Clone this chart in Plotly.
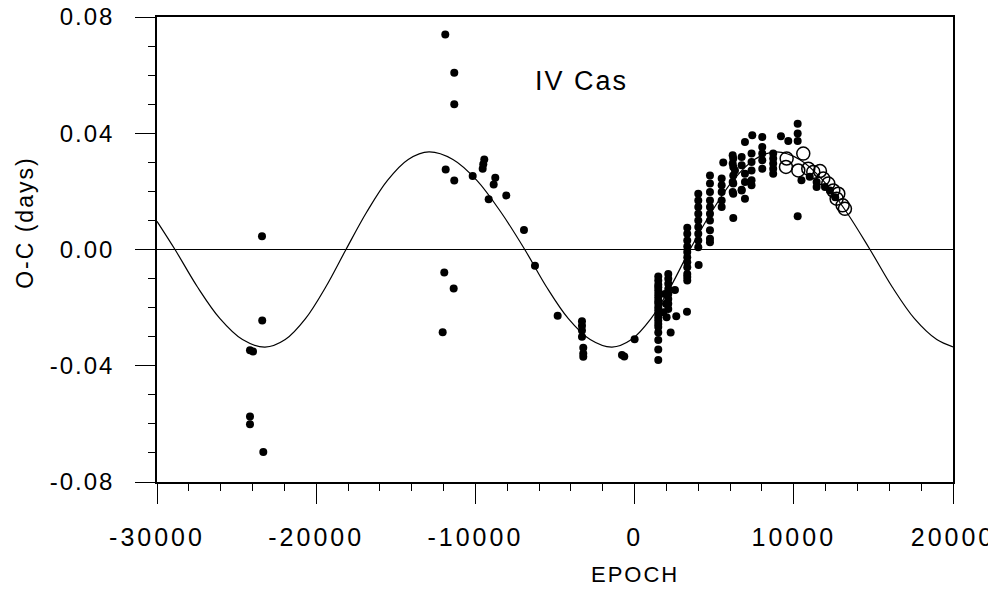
import plotly.graph_objects as go

# observed O-C, filled dots (epoch, days)
dot_epoch = [
    -24159, -23970, -23390, -23405, -24159, -24159, -23323,
    -11892, -11327, -11327, -11867, -11327, -10171, -9442, -9505, -9543, -8751, -8852, -9166, -8060,
    -6949, -6258, -11955, -11365, -12056,
    -4833, -3306, -3306, -3306, -3306, -3224, -3224, -3224, -794, -648, 0,
    1487, 1487, 1487, 1487, 1487, 1487, 1487, 1487, 1487, 1487,
    1487, 1487, 1487, 1487, 1487, 1487, 1487, 1487, 1487, 1487,
    2115, 2115, 2115, 2115, 2115, 2115, 2115, 2115,
    1908, 1970, 1803, 2010, 2265, 2535, 2618, 3290,
    3308, 3308, 3308, 3308, 3308, 3308, 3308, 3308, 3308, 3308, 3308,
    4024,
    4000, 4000, 4000, 4000, 4000, 4000, 4000, 4000, 4000,
    4734, 4734, 4734, 4734, 4734, 4734, 4734, 4734, 4734, 4734,
    5469, 5469, 5469, 5469, 5469,
    5570, 6198,
    6160, 6160, 6305, 6160, 6160, 6725, 6725, 6932, 6932, 6932, 6932, 6725,
    7391, 8019, 8019, 8019, 8019, 8019, 6725,
    7346, 7346, 7346, 7346, 7346,
    6198, 6198, 6198, 6198, 6198,
    8706, 8706, 8706, 8706, 8706,
    9193, 9653, 10243, 10243, 10243, 10243,
    10481, 11433, 11433, 11957, 12271, 11000, 12600,
]
dot_oc = [
    -0.0347, -0.0351, -0.0244, 0.0046, -0.0575, -0.0601, -0.0697,
    0.0740, 0.0608, 0.0500, 0.0275, 0.0237, 0.0253, 0.0310, 0.0293, 0.0278, 0.0247, 0.0224, 0.0173, 0.0186,
    0.0067, -0.0056, -0.0079, -0.0134, -0.0285,
    -0.0228, -0.0247, -0.0262, -0.0279, -0.0300, -0.0338, -0.0358, -0.0369, -0.0363, -0.0368, -0.0309,
    -0.0093, -0.0107, -0.0121, -0.0130, -0.0141, -0.0153, -0.0164, -0.0176, -0.0185, -0.0199,
    -0.0210, -0.0222, -0.0233, -0.0244, -0.0256, -0.0267, -0.0286, -0.0311, -0.0344, -0.0380,
    -0.0084, -0.0101, -0.0118, -0.0136, -0.0153, -0.0170, -0.0187, -0.0205,
    -0.0153, -0.0187, -0.0216, -0.0233, -0.0286, -0.0139, -0.0230, -0.0214,
    0.0075, 0.0054, 0.0031, 0.0010, -0.0009, -0.0027, -0.0044, -0.0061, -0.0084, -0.0095, -0.0107,
    -0.0053,
    0.0192, 0.0169, 0.0146, 0.0123, 0.0100, 0.0077, 0.0054, 0.0031, 0.0008,
    0.0255, 0.0227, 0.0198, 0.0169, 0.0146, 0.0123, 0.0100, 0.0066, 0.0037, 0.0025,
    0.0244, 0.0221, 0.0198, 0.0169, 0.0146,
    0.0299, 0.0108,
    0.0324, 0.0296, 0.0272, 0.0232, 0.0198, 0.0318, 0.0290, 0.0261, 0.0232, 0.0175, 0.0370, 0.0203,
    0.0393, 0.0387, 0.0353, 0.0330, 0.0307, 0.0278, 0.0206,
    0.0330, 0.0301, 0.0272, 0.0238, 0.0221,
    0.0313, 0.0284, 0.0255, 0.0227, 0.0192,
    0.0330, 0.0313, 0.0296, 0.0278, 0.0261,
    0.0390, 0.0373, 0.0433, 0.0399, 0.0373, 0.0114,
    0.0238, 0.0232, 0.0215, 0.0215, 0.0203, 0.0250, 0.0180,
]

# newer timings, open circles
ring_epoch = [9551, 9508, 10281, 10595, 10909, 11223, 11643, 11852, 12166, 12480, 12795, 12690, 13067, 13213]
ring_oc = [0.0313, 0.0284, 0.0272, 0.0330, 0.0278, 0.0267, 0.0270, 0.0244, 0.0227, 0.0203, 0.0192, 0.0175, 0.0152, 0.0140]

# fitted light-time curve
fit_epoch = [-30000, -28870, -27457, -26043, -24630, -23217, -21945, -20673, -19401, -18129,
             -16826, -15522, -14219, -12916, -11412, -9908, -8404, -6900, -5530, -4160,
             -2791, -1421, -196, 1028, 2253, 3478, 4830, 6181, 7533, 8884,
             10359, 11834, 13309, 14784, 16183, 17582, 18981, 20000]
fit_oc = [0.0097, 0.0, -0.0129, -0.0238, -0.0310, -0.0336, -0.0310, -0.0238, -0.0129, 0.0,
          0.0129, 0.0238, 0.0310, 0.0336, 0.0310, 0.0238, 0.0129, 0.0, -0.0129, -0.0238,
          -0.0310, -0.0336, -0.0310, -0.0238, -0.0129, 0.0, 0.0129, 0.0238, 0.0310, 0.0336,
          0.0310, 0.0238, 0.0129, 0.0, -0.0129, -0.0238, -0.0310, -0.0335]

x_ticks = [-30000, -20000, -10000, 0, 10000, 20000]
x_labels = ['-30000', '-20000', '-10000', '0', '10000', '20000']
y_ticks = [0.08, 0.04, 0.0, -0.04, -0.08]
y_labels = ['0.08', '0.04', '0.00', '-0.04', '-0.08']

FONT = 'Liberation Sans, Arial, sans-serif'

fig = go.Figure()

fig.add_trace(go.Scatter(x=fit_epoch, y=fit_oc, mode='lines', line_shape='spline',
                         line=dict(color='black', width=1.2), hoverinfo='skip'))
fig.add_trace(go.Scatter(x=dot_epoch, y=dot_oc, mode='markers',
                         marker=dict(color='black', size=8, line=dict(width=0))))
fig.add_trace(go.Scatter(x=ring_epoch, y=ring_oc, mode='markers',
                         marker=dict(symbol='circle-open', color='black', size=13,
                                     line=dict(width=1.5, color='black'))))

fig.add_annotation(x=-3350, y=0.058, text='IV Cas', showarrow=False,
                   font=dict(family=FONT, size=27, color='black'))
# axis titles as annotations: EPOCH sits under the 0 label, O-C a bit above centre
fig.add_annotation(x=0, xref='x', y=-0.198, yref='paper', text='EPOCH', showarrow=False,
                   yanchor='middle', font=dict(family=FONT, size=22, color='black'))
fig.add_annotation(x=-0.166, xref='paper', y=0.557, yref='paper', text='O-C (days)',
                   showarrow=False, textangle=-90, xanchor='center', yanchor='middle',
                   font=dict(family=FONT, size=23, color='black'))

fig.update_xaxes(range=[-30000, 20000], tickvals=x_ticks, ticktext=x_labels,
                 ticks='outside', ticklen=20, tickwidth=1, tickcolor='black',
                 minor=dict(dtick=2000, ticks='outside', ticklen=7, tickwidth=1, tickcolor='black'),
                 showline=True, linecolor='black', linewidth=1.5, mirror=True,
                 showgrid=False, zeroline=False, automargin=False,
                 ticklabelstandoff=12, ticklabeloverflow='allow',
                 tickfont=dict(family=FONT, size=25, color='black'))
fig.update_yaxes(range=[-0.08, 0.08], tickvals=y_ticks, ticktext=y_labels,
                 ticks='outside', ticklen=20, tickwidth=1, tickcolor='black',
                 minor=dict(dtick=0.01, ticks='outside', ticklen=7, tickwidth=1, tickcolor='black'),
                 showline=True, linecolor='black', linewidth=1.5, mirror=True,
                 showgrid=False, zeroline=True, zerolinecolor='black', zerolinewidth=1.2,
                 automargin=False, ticklabelstandoff=16, ticklabeloverflow='allow',
                 tickfont=dict(family=FONT, size=24, color='black'))

# the page body has an 8px margin; size the figure so it ends at the window edge
fig.update_layout(width=988, height=581, showlegend=False,
                  plot_bgcolor='white', paper_bgcolor='white',
                  margin=dict(l=149, r=43, t=9, b=107))

# the original lettering is spaced out a little; also let the top label
# spill into the page margin instead of being clipped by the svg
spacing_js = """
document.querySelectorAll('.ytick text, .annotation-text')
  .forEach(function (t) { t.style.letterSpacing = '2px'; });
document.querySelectorAll('.xtick text')
  .forEach(function (t) { t.style.letterSpacing = '3px'; });
document.querySelectorAll('.main-svg')
  .forEach(function (s) { s.style.overflow = 'visible'; });
"""

fig.write_html("out.html", post_script=spacing_js)
